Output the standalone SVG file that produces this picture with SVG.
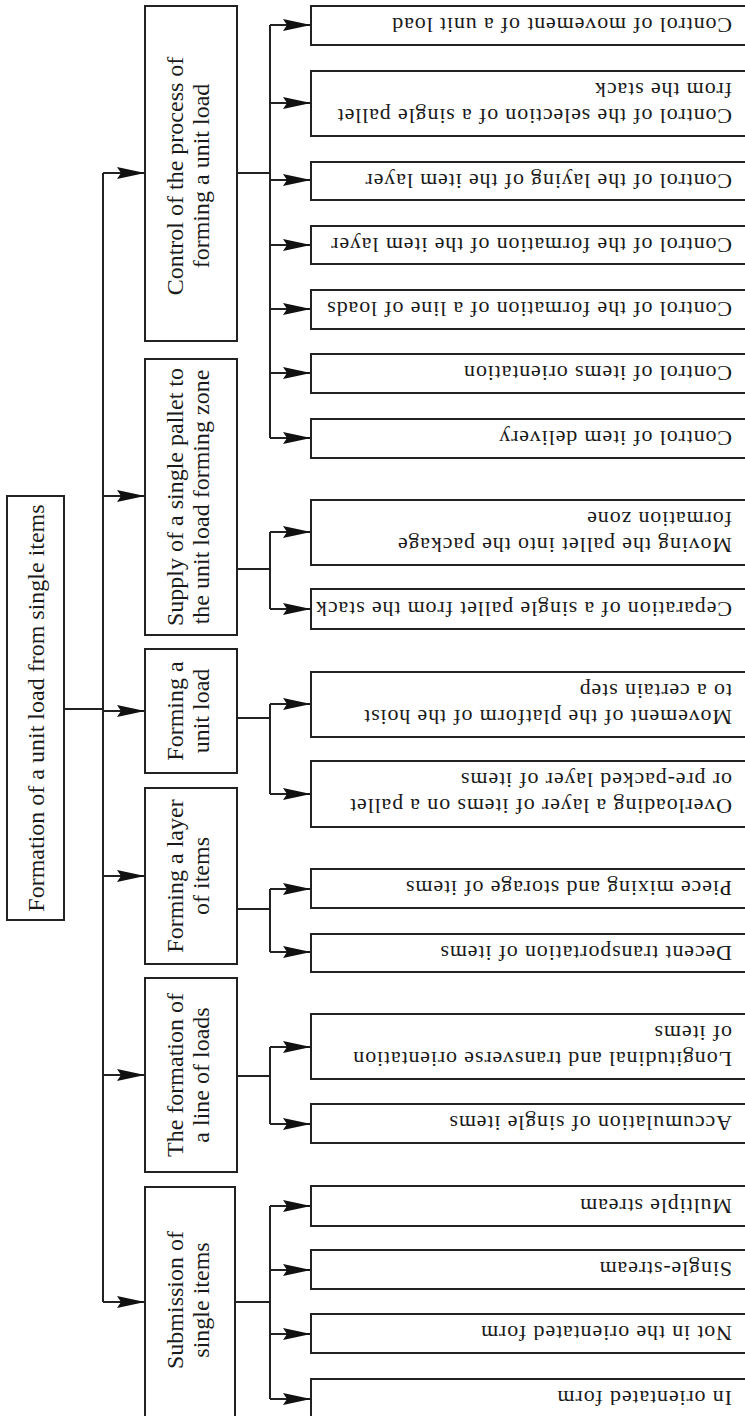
<svg xmlns="http://www.w3.org/2000/svg" width="745" height="1416" viewBox="0 0 745 1416">
<style>
.box{fill:#fff;stroke:#222;stroke-width:2}
.ln{fill:none;stroke:#222;stroke-width:2}
.arr{fill:none;stroke:#222;stroke-width:2;marker-end:url(#ah)}
.t2{font-family:"Liberation Serif","Times New Roman",serif;font-size:24px;fill:#1a1a1a;text-anchor:middle;dominant-baseline:central}
.t3{font-family:"Liberation Serif","Times New Roman",serif;font-size:22px;letter-spacing:0.85px;fill:#1a1a1a;text-anchor:start;dominant-baseline:central}
</style>
<defs>
<marker id="ah" viewBox="0 0 28 12" refX="28" refY="6" markerWidth="28" markerHeight="12" markerUnits="userSpaceOnUse" orient="auto">
<path d="M0,0 L28,6 L0,12 L4,6 Z" fill="#111"/>
</marker>
</defs>
<rect width="745" height="1416" fill="#fff"/>

<g id="connectors">
<path class="ln" d="M64,709 H103"/>
<path class="ln" d="M103,173 V1302"/>
<path class="arr" d="M103,173 H145"/>
<path class="arr" d="M103,496 H145"/>
<path class="arr" d="M103,711 H145"/>
<path class="arr" d="M103,876 H145"/>
<path class="arr" d="M103,1075 H145"/>
<path class="arr" d="M103,1302 H145"/>

<path class="ln" d="M237,173 H270 M270,25 V438"/>
<path class="arr" d="M270,25 H311"/>
<path class="arr" d="M270,103 H311"/>
<path class="arr" d="M270,180 H311"/>
<path class="arr" d="M270,245 H311"/>
<path class="arr" d="M270,309 H311"/>
<path class="arr" d="M270,373 H311"/>
<path class="arr" d="M270,438 H311"/>

<path class="ln" d="M237,569 H270 M270,532 V609"/>
<path class="arr" d="M270,532 H311"/>
<path class="arr" d="M270,609 H311"/>

<path class="ln" d="M237,718 H270 M270,704 V794"/>
<path class="arr" d="M270,704 H311"/>
<path class="arr" d="M270,794 H311"/>

<path class="ln" d="M237,909 H270 M270,889 V952"/>
<path class="arr" d="M270,889 H311"/>
<path class="arr" d="M270,952 H311"/>

<path class="ln" d="M237,1076 H270 M270,1047 V1124"/>
<path class="arr" d="M270,1047 H311"/>
<path class="arr" d="M270,1124 H311"/>

<path class="ln" d="M235,1302 H270 M270,1206 V1399"/>
<path class="arr" d="M270,1206 H311"/>
<path class="arr" d="M270,1270 H311"/>
<path class="arr" d="M270,1334 H311"/>
<path class="arr" d="M270,1399 H311"/>
</g>

<g id="root">
<rect class="box" x="7" y="496" width="57" height="424"/>
<text class="t2" transform="translate(36,708) rotate(-90)">Formation of a unit load from single items</text>
</g>

<g id="n-control">
<rect class="box" x="145" y="6" width="92" height="335"/>
<text class="t2" transform="translate(188,176) rotate(-90)"><tspan x="0" y="-13">Control of the process of</tspan><tspan x="0" y="13">forming a unit load</tspan></text>
</g>
<g id="n-supply">
<rect class="box" x="145" y="359" width="92" height="276"/>
<text class="t2" transform="translate(188,497) rotate(-90)"><tspan x="0" y="-13">Supply of a single pallet to</tspan><tspan x="0" y="13">the unit load forming zone</tspan></text>
</g>
<g id="n-unitload">
<rect class="box" x="145" y="649" width="92" height="124"/>
<text class="t2" transform="translate(188,711) rotate(-90)"><tspan x="0" y="-13">Forming a</tspan><tspan x="0" y="13">unit load</tspan></text>
</g>
<g id="n-layer">
<rect class="box" x="145" y="788" width="92" height="176"/>
<text class="t2" transform="translate(188,876) rotate(-90)"><tspan x="0" y="-13">Forming a layer</tspan><tspan x="0" y="13">of items</tspan></text>
</g>
<g id="n-line">
<rect class="box" x="145" y="978" width="92" height="194"/>
<text class="t2" transform="translate(188,1075) rotate(-90)"><tspan x="0" y="-13">The formation of</tspan><tspan x="0" y="13">a line of loads</tspan></text>
</g>
<g id="n-submission">
<rect class="box" x="145" y="1187" width="90" height="240"/>
<text class="t2" transform="translate(188,1300) rotate(-90)"><tspan x="0" y="-13">Submission of</tspan><tspan x="0" y="13">single items</tspan></text>
</g>

<g id="c1"><rect class="box" x="311" y="6" width="440" height="39"/><text class="t3" transform="translate(732,25.5) rotate(180)">Control of movement of a unit load</text></g>
<g id="c2"><rect class="box" x="311" y="71" width="440" height="65"/><text class="t3" transform="translate(732,103.5) rotate(180)"><tspan x="0" y="-13">Control of the selection of a single pallet</tspan><tspan x="0" y="13">from the stack</tspan></text></g>
<g id="c3"><rect class="box" x="311" y="162" width="440" height="38"/><text class="t3" transform="translate(732,181) rotate(180)">Control of the laying of the item layer</text></g>
<g id="c4"><rect class="box" x="311" y="226" width="440" height="38"/><text class="t3" transform="translate(732,245) rotate(180)">Control of the formation of the item layer</text></g>
<g id="c5"><rect class="box" x="311" y="290" width="440" height="39"/><text class="t3" transform="translate(732,309.5) rotate(180)">Control of the formation of a line of loads</text></g>
<g id="c6"><rect class="box" x="311" y="354" width="440" height="39"/><text class="t3" transform="translate(732,373.5) rotate(180)">Control of items orientation</text></g>
<g id="c7"><rect class="box" x="311" y="419" width="440" height="39"/><text class="t3" transform="translate(732,438.5) rotate(180)">Control of item delivery</text></g>

<g id="s1"><rect class="box" x="311" y="500" width="440" height="65"/><text class="t3" transform="translate(732,532.5) rotate(180)"><tspan x="0" y="-13">Moving the pallet into the package</tspan><tspan x="0" y="13">formation zone</tspan></text></g>
<g id="s2"><rect class="box" x="311" y="589" width="440" height="40"/><text class="t3" transform="translate(732,609) rotate(180)">Ceparation of a single pallet from the stack</text></g>

<g id="u1"><rect class="box" x="311" y="672" width="440" height="65"/><text class="t3" transform="translate(732,704.5) rotate(180)"><tspan x="0" y="-13">Movement of the platform of the hoist</tspan><tspan x="0" y="13">to a certain step</tspan></text></g>
<g id="u2"><rect class="box" x="311" y="761" width="440" height="66"/><text class="t3" transform="translate(732,794) rotate(180)"><tspan x="0" y="-13">Overloading a layer of items on a pallet</tspan><tspan x="0" y="13">or pre-packed layer of items</tspan></text></g>

<g id="l1"><rect class="box" x="311" y="869" width="440" height="39"/><text class="t3" transform="translate(732,888.5) rotate(180)">Piece mixing and storage of items</text></g>
<g id="l2"><rect class="box" x="311" y="934" width="440" height="38"/><text class="t3" transform="translate(732,953) rotate(180)">Decent transportation of items</text></g>

<g id="f1"><rect class="box" x="311" y="1014" width="440" height="65"/><text class="t3" transform="translate(732,1046.5) rotate(180)"><tspan x="0" y="-13">Longitudinal and transverse orientation</tspan><tspan x="0" y="13">of items</tspan></text></g>
<g id="f2"><rect class="box" x="311" y="1104" width="440" height="39"/><text class="t3" transform="translate(732,1123.5) rotate(180)">Accumulation of single items</text></g>

<g id="m1"><rect class="box" x="311" y="1186" width="440" height="40"/><text class="t3" transform="translate(732,1206) rotate(180)">Multiple stream</text></g>
<g id="m2"><rect class="box" x="311" y="1250" width="440" height="39"/><text class="t3" transform="translate(732,1269.5) rotate(180)">Single-stream</text></g>
<g id="m3"><rect class="box" x="311" y="1314" width="440" height="39"/><text class="t3" transform="translate(732,1333.5) rotate(180)">Not in the orientated form</text></g>
<g id="m4"><rect class="box" x="311" y="1379" width="440" height="50"/><text class="t3" transform="translate(732,1398.5) rotate(180)">In orientated form</text></g>
</svg>
